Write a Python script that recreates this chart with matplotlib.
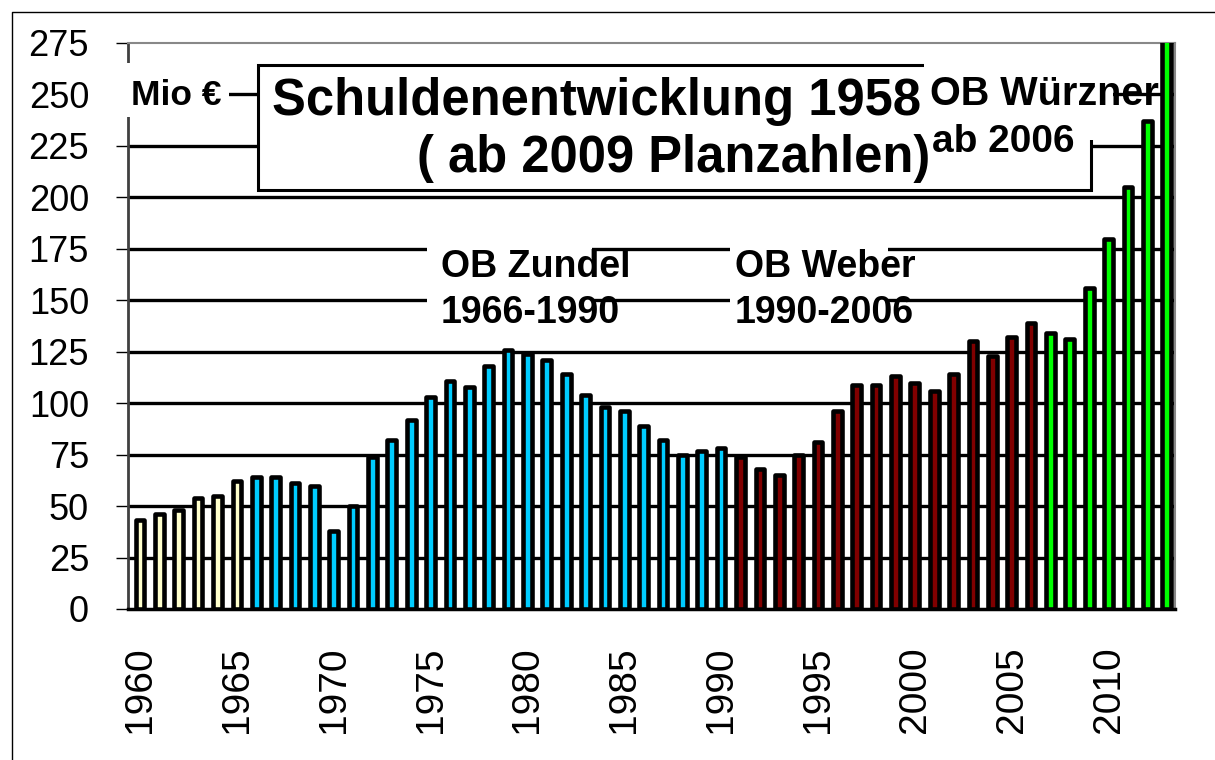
# plot.py
# Schuldenentwicklung 1958 - Balken pro Jahr, eingefaerbt nach Amtszeit des OB

import matplotlib.pyplot as plt
from matplotlib.patches import Rectangle
from matplotlib.lines import Line2D

W, H = 1215, 760

# data (Mio EUR)
years = list(range(1960, 2014))
schulden = [43, 46, 48, 54, 55, 62, 64, 64, 61, 60,
            38, 50, 74, 82, 92, 103, 111, 108, 118, 126,
            124, 121, 114, 104, 98, 96, 89, 82, 75, 77,
            78, 74, 68, 65, 75, 81, 96, 109, 109, 113,
            110, 106, 114, 130, 123, 132, 139, 134, 131, 156,
            180, 205, 237, 280]

# last year of each colour block
period_end = [1965, 1990, 2006, 2013]
period_colors = ['#FFFFCC', '#00CCFF', '#800000', '#00FF00']

y_ticks = list(range(0, 276, 25))
x_ticks = list(range(1960, 2011, 5))


def bar_color(year):
    for end, c in zip(period_end, period_colors):
        if year <= end:
            return c
    return period_colors[-1]


def fxy(px, py):
    # pixel position in the picture -> figure fraction
    return px / W, 1 - py / H


def white_patch(fig, x0, y0, x1, y1, edge=None, lw=0, z=5):
    x, y = fxy(x0, y1)
    r = Rectangle((x, y), (x1 - x0) / W, (y1 - y0) / H,
                  transform=fig.transFigure, facecolor='white',
                  edgecolor=edge if edge else 'white', linewidth=lw, zorder=z)
    fig.add_artist(r)


def label(fig, px, py, s, size, bold=True):
    x, y = fxy(px, py)
    fig.text(x, y, s, fontsize=size, fontweight='bold' if bold else 'normal',
             ha='left', va='baseline', zorder=7)


def main():
    plt.rcParams['font.family'] = ['Liberation Sans', 'DejaVu Sans']

    fig = plt.figure(figsize=(W / 100, H / 100), dpi=100)
    ax = fig.add_axes([128 / W, 1 - 609 / H, (1175 - 128) / W, (609 - 43) / H])

    x_min, x_max = 1959.38, 2013.43
    ax.hlines(y_ticks[1:-1], x_min, x_max, colors='black', linewidth=2.4, zorder=1)

    bars = ax.bar(years, schulden, width=0.45,
                  color=[bar_color(y) for y in years],
                  edgecolor='black', linewidth=3.3, zorder=3)
    for b in bars:
        b.set_joinstyle('round')

    ax.set_xlim(x_min, x_max)
    ax.set_ylim(0, 275)
    ax.set_yticks(y_ticks)
    ax.set_xticks(x_ticks)
    ax.set_xticklabels([str(x) for x in x_ticks], rotation=90)

    ax.tick_params(axis='y', direction='out', length=9, width=1, color='black',
                   pad=19, labelsize=26)
    ax.tick_params(axis='x', length=0, pad=27, labelsize=28)

    for side in ('top', 'right'):
        ax.spines[side].set_color('#888888')
        ax.spines[side].set_linewidth(1.5)
    ax.spines['left'].set_color('#404040')
    ax.spines['left'].set_linewidth(2)
    ax.spines['bottom'].set_color('black')
    ax.spines['bottom'].set_linewidth(2.5)

    # white boxes behind the texts
    white_patch(fig, 116, 63, 229, 117)
    white_patch(fig, 258, 65, 1091, 190, edge='black', lw=2.2, z=5)
    white_patch(fig, 924, 58, 1113, 140, z=5.5)
    white_patch(fig, 427, 238, 592, 335)
    white_patch(fig, 730, 238, 888, 335)

    label(fig, 131, 105, 'Mio €', 25.5)
    label(fig, 272, 115, 'Schuldenentwicklung 1958', 36.5)
    label(fig, 417, 172, '( ab 2009 Planzahlen)', 36.5)
    label(fig, 930, 105, 'OB Würzner', 28.5)
    label(fig, 932, 152, 'ab 2006', 28)
    label(fig, 441, 277, 'OB Zundel', 27)
    label(fig, 441, 323, '1966-1990', 27)
    label(fig, 735, 277, 'OB Weber', 27)
    label(fig, 735, 323, '1990-2006', 27)

    # thin frame round the picture (left and top)
    fig.add_artist(Line2D([12 / W, 12 / W, 1], [0, 1 - 12 / H, 1 - 12 / H],
                          transform=fig.transFigure, color='black', linewidth=1))

    fig.savefig('out.png', dpi=100)


if __name__ == "__main__":
    main()
